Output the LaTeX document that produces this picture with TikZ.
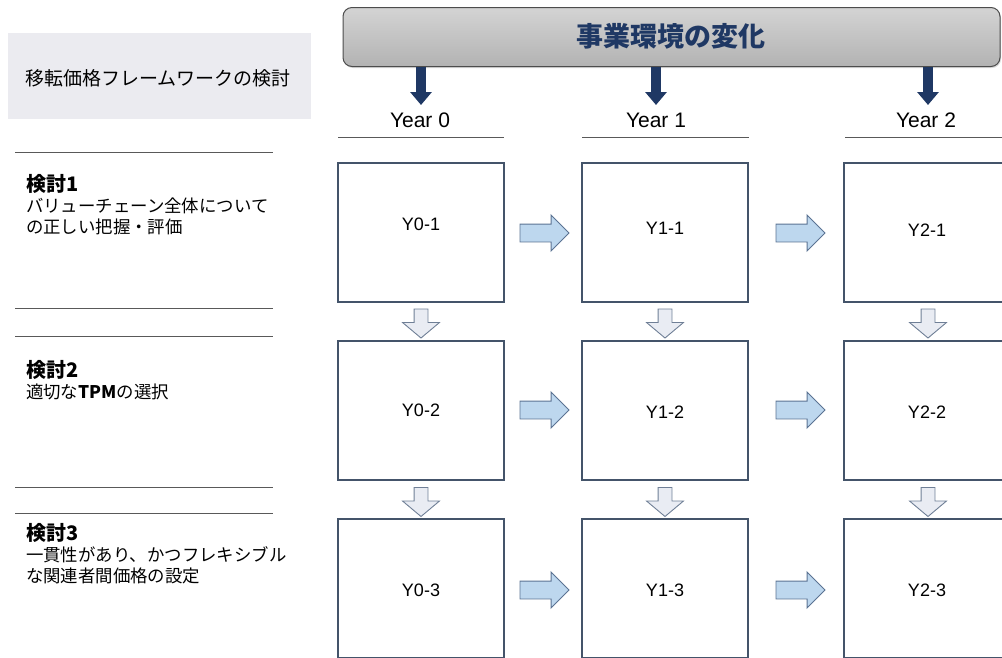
\documentclass[tikz,border=0pt]{standalone}
\usepackage{fontspec}
\setmainfont{Liberation Sans}
\newfontfamily\jp{Noto Sans CJK JP}
\usetikzlibrary{shapes.arrows,calc,arrows.meta,shadows}
\definecolor{navy}{HTML}{1F3864}
\definecolor{boxline}{HTML}{44546A}
\definecolor{rfill}{HTML}{BDD7EE}
\definecolor{rline}{HTML}{5B7393}
\definecolor{dfill}{HTML}{E9ECF3}
\definecolor{dline}{HTML}{6F7F96}
\definecolor{leftbg}{HTML}{EBEBF0}
\tikzset{
  cell/.style={draw=boxline, line width=1.1pt, fill=white, minimum width=166pt, minimum height=139pt, inner sep=0pt, font=\fontsize{18}{20}\selectfont},
  rarrow/.style={single arrow, anchor=tail, draw=rline, fill=rfill, line width=0.9pt, minimum height=49pt, minimum width=35pt, inner sep=8.5pt, single arrow head extend=9pt, single arrow tip angle=90},
  darrow/.style={single arrow, anchor=tail, draw=dline, fill=dfill, line width=0.9pt, minimum height=29pt, minimum width=36pt, inner sep=6.5pt, single arrow head extend=11.5pt, single arrow tip angle=100, shape border rotate=270},
  navyarrow/.style={draw=navy, line width=10pt, -{Triangle[width=21pt,length=13pt]}},
  yearlbl/.style={font=\fontsize{21}{23}\selectfont, inner sep=0pt},
  sepline/.style={draw=black!65, line width=0.9pt},
  lefttext/.style={anchor=north west, align=left, inner sep=0pt, font=\jp\fontsize{17.4}{21}\selectfont}
}
\begin{document}
\begin{tikzpicture}[x=1pt,y=-1pt]
\useasboundingbox (0,0) rectangle (1002,657);
\clip (0,0) rectangle (1002,657);
% left header box
\node[fill=leftbg, minimum width=303pt, minimum height=86pt, inner sep=0pt] (lefthead) at (159.5,76) {};
\node[font=\jp\fontsize{19}{21}\selectfont, inner sep=0pt] (lefthead text) at (158,78) {移転価格フレームワークの検討};
% banner
\node[draw=black!70, line width=1pt, rounded corners=9pt, top color=black!17, bottom color=black!30, minimum width=657pt, minimum height=59pt, inner sep=0pt, drop shadow={shadow xshift=1pt, shadow yshift=-1.5pt, opacity=0.3}] (banner) at (671.5,37) {};
\node[font=\jp\bfseries\fontsize{27}{29}\selectfont, text=navy, inner sep=0pt] (title) at (671,36) {事業環境の変化};
% years
\node[yearlbl] (y0) at (420,120) {Year 0};
\node[yearlbl] (y1) at (656,120) {Year 1};
\node[yearlbl] (y2) at (926,120) {Year 2};
\coordinate (a0) at (421,105);
\coordinate (a1) at (656,105);
\coordinate (a2) at (928,105);
\draw[navyarrow] (banner.south -| a0) -- (a0);
\draw[navyarrow] (banner.south -| a1) -- (a1);
\draw[navyarrow] (banner.south -| a2) -- (a2);
\coordinate (u0l) at (338,137); \coordinate (u0r) at (504,137);
\coordinate (u1l) at (582,137); \coordinate (u1r) at (749,137);
\coordinate (u2l) at (845,137); \coordinate (u2r) at (1002,137);
\draw[sepline] (u0l) -- (u0r);
\draw[sepline] (u1l) -- (u1r);
\draw[sepline] (u2l) -- (u2r);
% left separators
\foreach \yy/\nm in {152/s1,308/s2,336/s3,487/s4,513/s5}{
  \coordinate (\nm l) at (15,\yy); \coordinate (\nm r) at (273,\yy);
  \draw[sepline] (\nm l) -- (\nm r);
}
% left texts
\node[lefttext] (k1) at (26,174) {{\bfseries\fontsize{20}{21}\selectfont 検討1}\\バリューチェーン全体について\\の正しい把握・評価};
\node[lefttext] (k2) at (26,360) {{\bfseries\fontsize{20}{21}\selectfont 検討2}\\適切な\textbf{TPM}の選択};
\node[lefttext] (k3) at (26,523) {{\bfseries\fontsize{20}{21}\selectfont 検討3}\\一貫性があり、かつフレキシブル\\な関連者間価格の設定};
% cells
\node[cell] (b01) at (421,232.5) {};
\node[cell] (b11) at (665,232.5) {};
\node[cell] (b21) at (927,232.5) {};
\node[cell] (b02) at (421,410.5) {};
\node[cell] (b12) at (665,410.5) {};
\node[cell] (b22) at (927,410.5) {};
\node[cell] (b03) at (421,588.5) {};
\node[cell] (b13) at (665,588.5) {};
\node[cell] (b23) at (927,588.5) {};
\foreach \c/\r/\yy in {0/1/224,1/1/228,2/1/230,0/2/410,1/2/412,2/2/412,0/3/590,1/3/590,2/3/590}{
  \node[font=\fontsize{18}{20}\selectfont, inner sep=0pt] (t\c\r) at (b\c\r.center |- 0,\yy) {Y\c-\r};
}
% right arrows
\foreach \r/\yy in {1/233,2/410,3/590}{
  \node[rarrow] (ra0\r) at ([xshift=15pt]b0\r.east |- 0,\yy) {};
  \node[rarrow] (ra1\r) at ([xshift=27pt]b1\r.east |- 0,\yy) {};
}
% down arrows
\foreach \c/\xx in {0/421,1/665,2/928}{
  \node[darrow] (da\c1) at ([yshift=-6pt]b\c1.south -| \xx,0) {};
  \node[darrow] (da\c2) at ([yshift=-6.5pt]b\c2.south -| \xx,0) {};
}
\end{tikzpicture}
\end{document}
